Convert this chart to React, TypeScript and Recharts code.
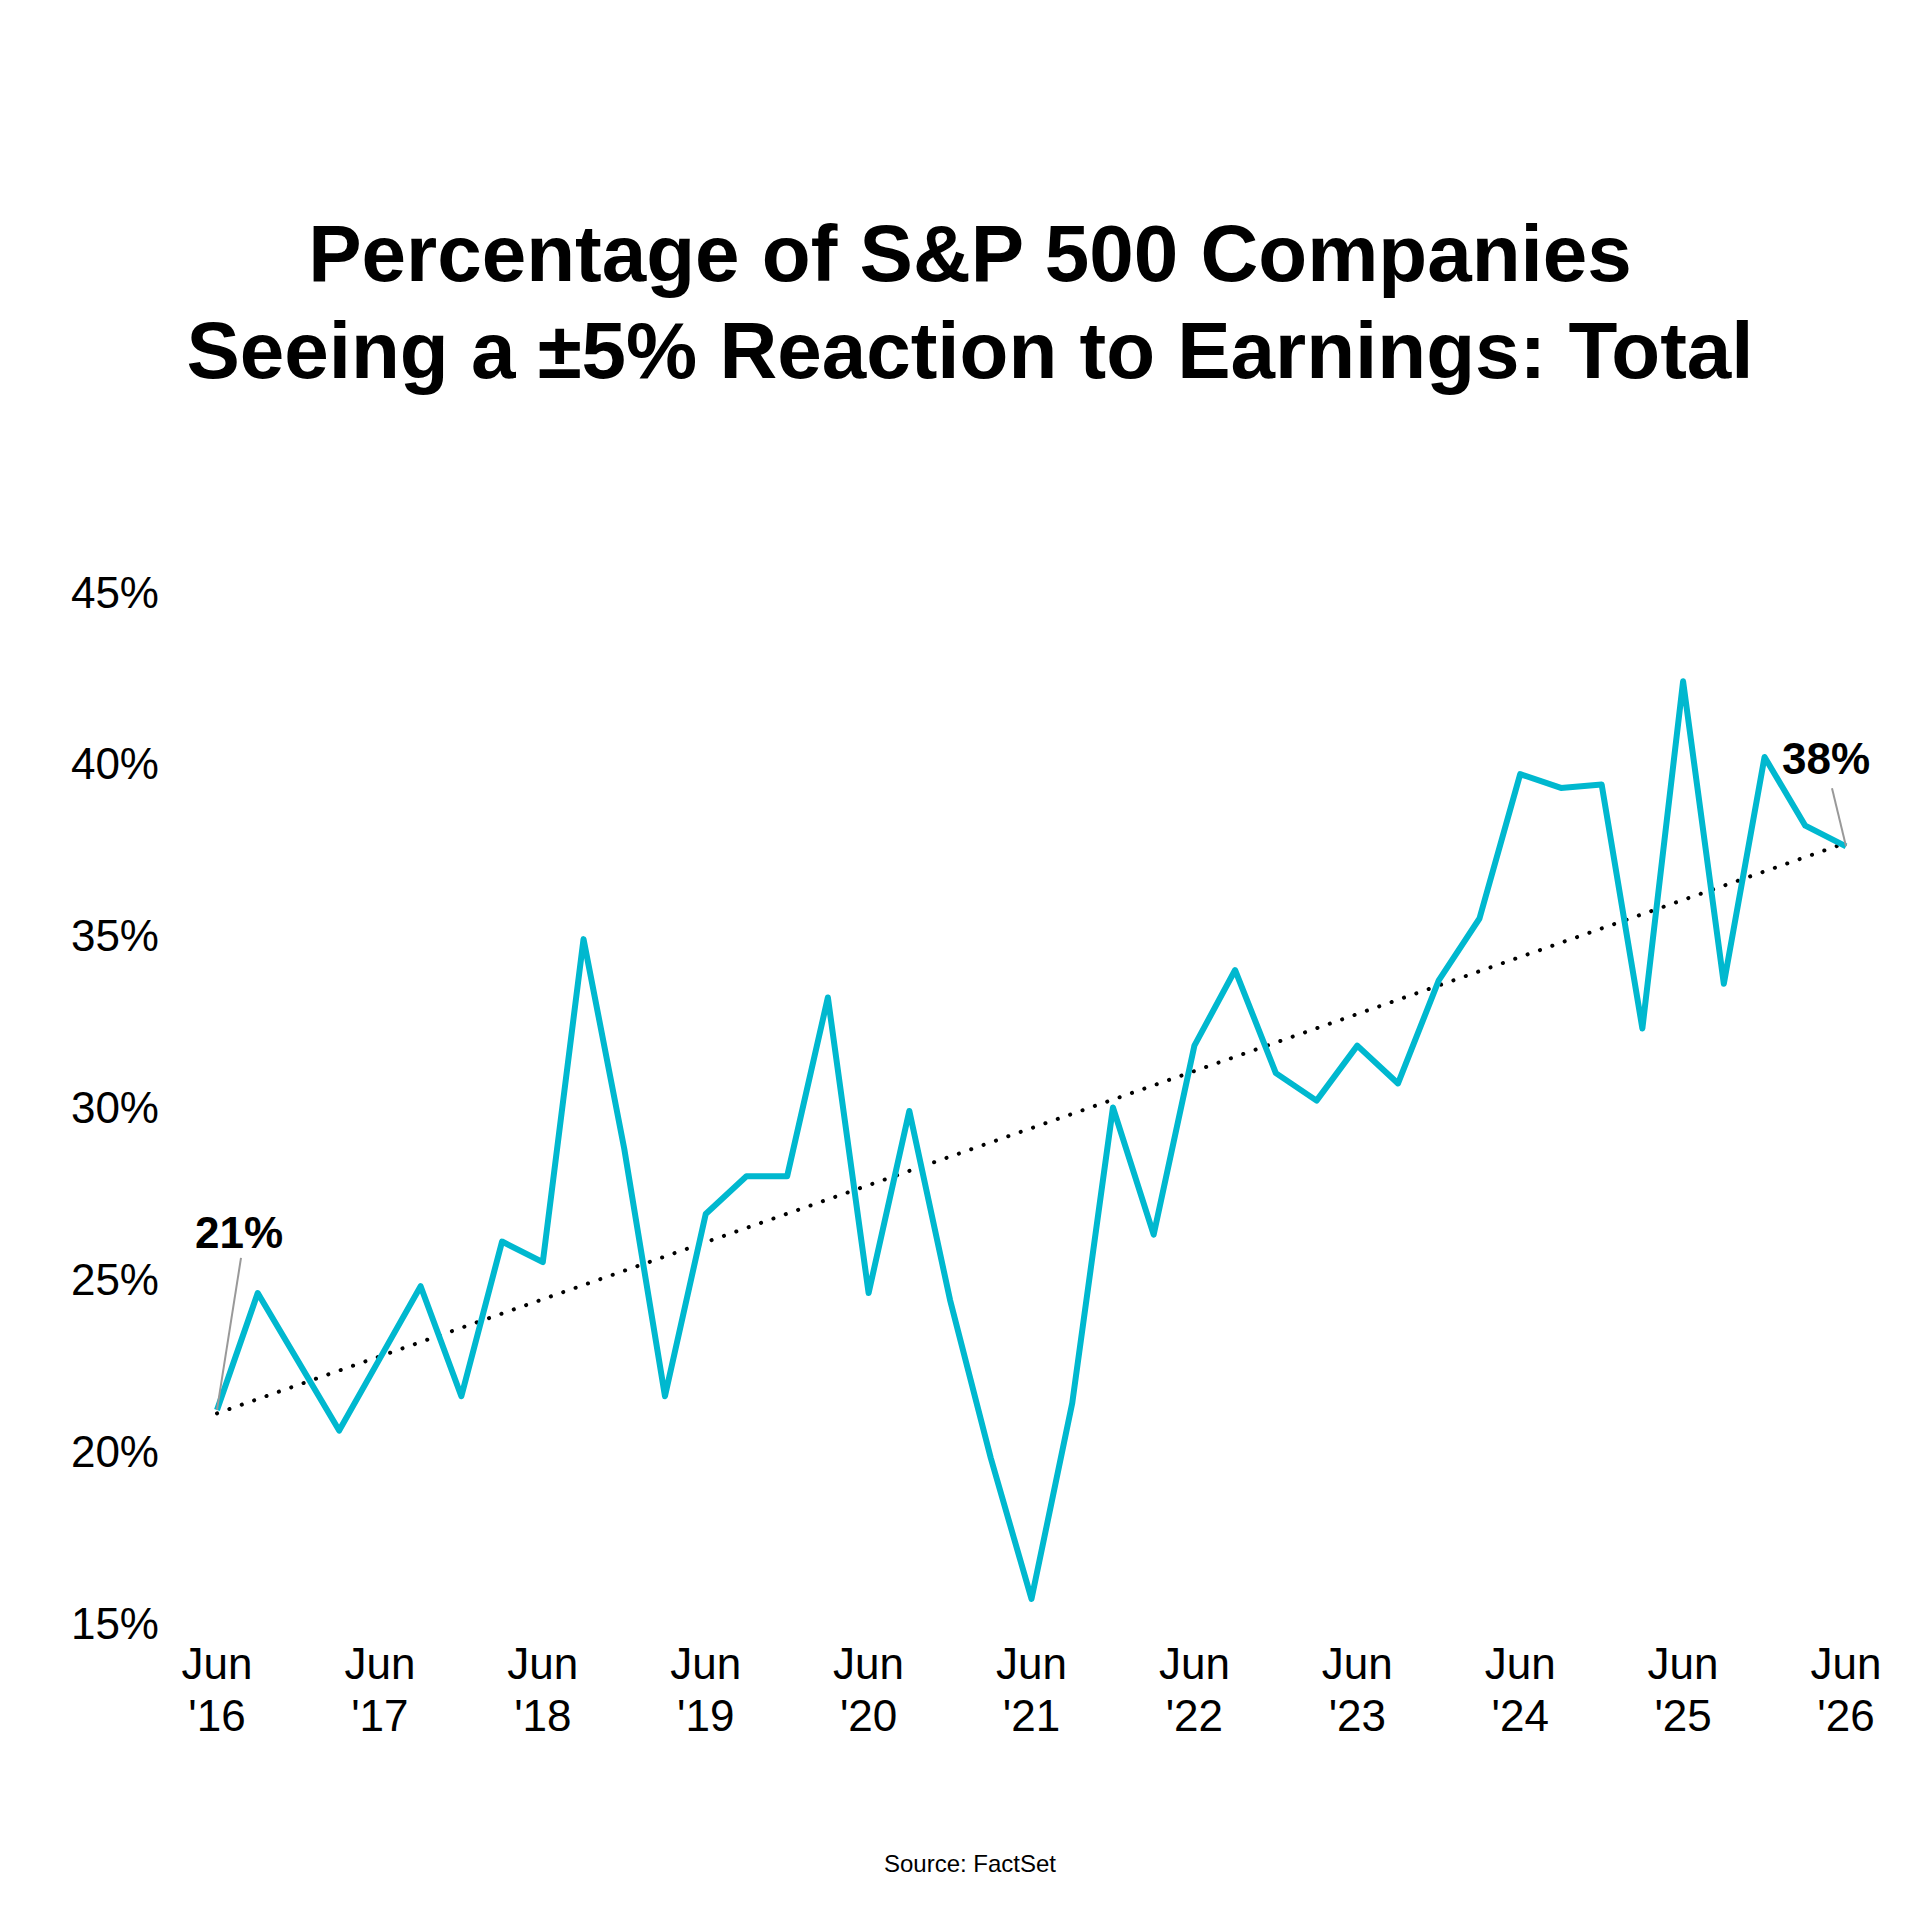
import React from "react";
import { LineChart, Line, XAxis, YAxis, ReferenceLine } from "recharts";

const values = [21.2, 24.6, 22.6, 20.6, 22.7, 24.8, 21.6, 26.1, 25.5, 34.9, 28.8, 21.6, 26.9, 28.0, 28.0, 33.2, 24.6, 29.9, 24.4, 19.8, 15.7, 21.4, 30.0, 26.3, 31.8, 34.0, 31.0, 30.2, 31.8, 30.7, 33.7, 35.5, 39.7, 39.3, 39.4, 32.3, 42.4, 33.6, 40.2, 38.2, 37.6];
const tickYears = ["'16", "'17", "'18", "'19", "'20", "'21", "'22", "'23", "'24", "'25", "'26"];
const xTicks = [0, 4, 8, 12, 16, 20, 24, 28, 32, 36, 40];
const yTicks = [15, 20, 25, 30, 35, 40, 45];
const trendStart = 21.1;
const trendEnd = 37.7;
const data = values.map((v, i) => ({ i, v }));
const FONT = "'Liberation Sans', Arial, sans-serif";

const XTick = (p: any) => {
  const idx = xTicks.indexOf(p.payload.value);
  return (
    <g>
      <text x={p.x} y={p.y + 48} textAnchor="middle" fontSize={44} fontFamily={FONT} fill="#000">Jun</text>
      <text x={p.x} y={p.y + 100} textAnchor="middle" fontSize={44} fontFamily={FONT} fill="#000">{tickYears[idx]}</text>
    </g>
  );
};

const EndLabel = (p: any) => {
  const { x, y, index } = p;
  if (index === 0) {
    return (
      <g>
        <line x1={x} y1={y} x2={x + 24} y2={y - 152} stroke="#999" strokeWidth={2} />
        <text x={x + 22} y={y - 162} textAnchor="middle" fontSize={44} fontWeight="bold" fontFamily={FONT} fill="#000">{Math.round(values[0])}%</text>
      </g>
    );
  }
  if (index === values.length - 1) {
    return (
      <g>
        <line x1={x} y1={y} x2={x - 14} y2={y - 58} stroke="#999" strokeWidth={2} />
        <text x={x - 20} y={y - 72} textAnchor="middle" fontSize={44} fontWeight="bold" fontFamily={FONT} fill="#000">{Math.round(values[values.length - 1])}%</text>
      </g>
    );
  }
  return null;
};

export default function App() {
  return (
    <div style={{ position: "absolute", left: 0, top: 0, width: 1920, height: 1920, background: "#fff", fontFamily: FONT }}>
      <div style={{ position: "absolute", top: 205, left: 0, width: 1940, textAlign: "center", fontSize: 80, fontWeight: "bold", lineHeight: "97px", color: "#000" }}>
        Percentage of S&amp;P 500 Companies<br />Seeing a ±5% Reaction to Earnings: Total
      </div>
      <LineChart width={1920} height={1920} data={data} margin={{ top: 592, right: 74, left: 37, bottom: 157 }}>
        <XAxis dataKey="i" type="number" domain={[0, 40]} ticks={xTicks} tick={<XTick />} axisLine={false} tickLine={false} height={140} interval={0} />
        <YAxis domain={[15, 45]} ticks={yTicks} tickFormatter={(v) => `${v}%`} axisLine={false} tickLine={false} width={180} tick={{ fontSize: 44, fill: "#000", fontFamily: FONT, dx: -50 }} />
        <ReferenceLine segment={[{ x: 0, y: trendStart }, { x: 40, y: trendEnd }]} stroke="#000" strokeWidth={4} strokeDasharray="0.1 13" strokeLinecap="round" />
        <Line dataKey="v" stroke="#00B8CF" strokeWidth={6} dot={false} isAnimationActive={false} strokeLinejoin="round" label={<EndLabel />} />
      </LineChart>
      <div style={{ position: "absolute", top: 1850, left: 0, width: 1940, textAlign: "center", fontSize: 24, color: "#000" }}>Source: FactSet</div>
    </div>
  );
}
